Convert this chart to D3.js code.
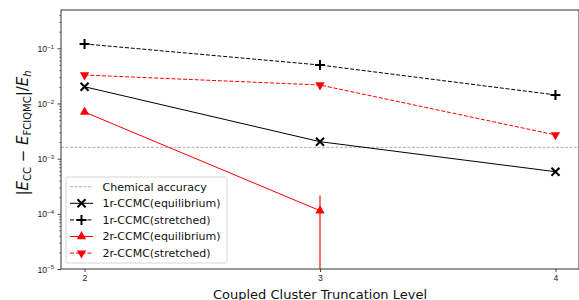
<!DOCTYPE html>
<html>
<head>
<meta charset="utf-8">
<script src="https://cdn.jsdelivr.net/npm/d3@7"></script>
<style>
  body { margin: 0; background: #fff; }
  svg { display: block; font-family: "DejaVu Sans", sans-serif; }
</style>
</head>
<body>
<div id="chart"></div>
<script>
// data
const levels = [2, 3, 4];
const r1Equil = [0.0201, 0.00203, 0.00058];
const r1Stretched = [0.12, 0.0498, 0.0143];
const r2EquilLevels = [2, 3];
const r2Equil = [0.0070, 0.000114];
const r2EquilErr = [0, 0.000104];
const r2Stretched = [0.0328, 0.0216, 0.00269];
const chemicalAccuracy = 0.0016;
const yTicks = [1e-1, 1e-2, 1e-3, 1e-4, 1e-5];
const yTickExp = ["−1", "−2", "−3", "−4", "−5"];
const legendLabels = ["Chemical accuracy", "1r-CCMC(equilibrium)", "1r-CCMC(stretched)",
                      "2r-CCMC(equilibrium)", "2r-CCMC(stretched)"];

const W = 579, H = 300;
const margin = { top: 10, right: 0, bottom: 31, left: 61 };
const width = W - margin.left - margin.right,
      height = H - margin.top - margin.bottom;

const svg = d3.select("#chart").append("svg")
    .attr("width", W).attr("height", H);
const g = svg.append("g").attr("transform", `translate(${margin.left},${margin.top})`);

const x = d3.scaleLinear().domain([1.9, 4.1]).range([0, width]);
const y = d3.scaleLog().domain([1e-5, Math.pow(10, -0.306)]).range([height, 0]);

// chemical accuracy line
g.append("line")
  .attr("x1", 0).attr("x2", width)
  .attr("y1", y(chemicalAccuracy)).attr("y2", y(chemicalAccuracy))
  .attr("stroke", "#999").attr("stroke-width", 0.8).attr("stroke-dasharray", "3,1.5");

const line = d3.line().x(d => x(d[0])).y(d => y(d[1]));

function series(xs, ys, color, dash) {
  const pts = xs.map((v, i) => [v, ys[i]]);
  g.append("path").datum(pts)
    .attr("d", line).attr("fill", "none")
    .attr("stroke", color).attr("stroke-width", 1)
    .attr("stroke-dasharray", dash || null);
  return pts;
}

function markerPath(type, s) {
  if (type === "x") return `M${-s},${-s}L${s},${s}M${-s},${s}L${s},${-s}`;
  if (type === "+") return `M${-s},0L${s},0M0,${-s}L0,${s}`;
  return null;
}

function drawMarker(sel, type, color) {
  if (type === "x" || type === "+") {
    sel.append("path").attr("d", markerPath(type, type === "x" ? 4 : 5))
      .attr("stroke", color).attr("stroke-width", 2).attr("fill", "none");
  } else {
    sel.append("path").attr("d", d3.symbol(d3.symbolTriangle, 38)())
      .attr("transform", type === "v" ? "rotate(180)" : null)
      .attr("fill", color);
  }
}

function markers(pts, type, color) {
  pts.forEach(p => {
    const m = g.append("g").attr("transform", `translate(${x(p[0])},${y(p[1])})`);
    drawMarker(m, type, color);
  });
}

const p1e = series(levels, r1Equil, "#000");
const p1s = series(levels, r1Stretched, "#000", "4,1.8");
const p2e = series(r2EquilLevels, r2Equil, "#f00");
const p2s = series(levels, r2Stretched, "#f00", "4,1.8");

// error bar for 2r equilibrium
r2EquilLevels.forEach((lv, i) => {
  if (!r2EquilErr[i]) return;
  g.append("line")
    .attr("x1", x(lv)).attr("x2", x(lv))
    .attr("y1", y(r2Equil[i] + r2EquilErr[i]))
    .attr("y2", y(r2Equil[i] - r2EquilErr[i]))
    .attr("stroke", "#f33").attr("stroke-width", 1.4);
});

markers(p1e, "x", "#000");
markers(p1s, "+", "#000");
markers(p2e, "^", "#f00");
markers(p2s, "v", "#f00");

// axes
const xAxis = g.append("g").attr("transform", `translate(0,${height})`)
  .call(d3.axisBottom(x).tickValues(levels).tickFormat(d3.format("d")).tickSize(3).tickPadding(3));
xAxis.select(".domain").remove();
xAxis.selectAll("text").attr("font-size", 8.7).attr("fill", "#222");
xAxis.selectAll("line").attr("stroke", "#444");

const minor = [];
for (let e = -5; e < 0; e++) for (let k = 2; k <= 9; k++) {
  const v = k * Math.pow(10, e);
  if (v <= y.domain()[1]) minor.push(v);
}
const yMinor = g.append("g")
  .call(d3.axisLeft(y).tickValues(minor).tickSize(2).tickFormat(""));
yMinor.select(".domain").remove();
yMinor.selectAll("line").attr("stroke", "#444").attr("stroke-width", 0.6);

const yAxis = g.append("g")
  .call(d3.axisLeft(y).tickValues(yTicks).tickSize(3.5).tickPadding(3.5).tickFormat(""));
yAxis.select(".domain").remove();
yAxis.selectAll("line").attr("stroke", "#444");
yAxis.selectAll(".tick text").each(function(d, i) {
  const t = d3.select(this).attr("font-size", 8.7).attr("fill", "#222").attr("dy", "0.35em");
  t.append("tspan").text("10");
  t.append("tspan").text(yTickExp[i]).attr("font-size", 6).attr("dy", "-0.55em");
});

// frame
g.append("rect").attr("width", width).attr("height", height)
  .attr("fill", "none").attr("stroke", "#333").attr("stroke-width", 1);

// axis labels
svg.append("text")
  .attr("x", margin.left + width / 2).attr("y", 298.5)
  .attr("text-anchor", "middle").attr("font-size", 13).attr("fill", "#111")
  .text("Coupled Cluster Truncation Level");

const yl = svg.append("text")
  .attr("transform", `translate(28,133) rotate(-90)`)
  .attr("text-anchor", "middle").attr("font-size", 15).attr("fill", "#111");
yl.append("tspan").text("|");
yl.append("tspan").text("E").attr("font-style", "italic");
yl.append("tspan").text("CC").attr("font-size", 10).attr("dy", 3);
yl.append("tspan").text(" − ").attr("dy", -3);
yl.append("tspan").text("E").attr("font-style", "italic");
yl.append("tspan").text("FCIQMC").attr("font-size", 10).attr("dy", 3);
yl.append("tspan").text("|/").attr("dy", -3);
yl.append("tspan").text("E").attr("font-style", "italic");
yl.append("tspan").text("h").attr("font-style", "italic").attr("font-size", 10).attr("dy", 3);

// legend
const lg = svg.append("g").attr("transform", "translate(66,177)");
lg.append("rect").attr("width", 161).attr("height", 86).attr("rx", 2)
  .attr("fill", "#fff").attr("fill-opacity", 0.85).attr("stroke", "#ccc").attr("stroke-width", 0.8);
const legendStyle = [
  { color: "#999", dash: "3,1.5", marker: null, w: 0.8 },
  { color: "#000", dash: null, marker: "x", w: 1 },
  { color: "#000", dash: "4,1.8", marker: "+", w: 1 },
  { color: "#f00", dash: null, marker: "^", w: 1 },
  { color: "#f00", dash: "4,1.8", marker: "v", w: 1 }
];
legendLabels.forEach((name, i) => {
  const row = lg.append("g").attr("transform", `translate(0,${9.7 + i * 16.6})`);
  row.append("line").attr("x1", 4).attr("x2", 27)
    .attr("stroke", legendStyle[i].color).attr("stroke-width", legendStyle[i].w)
    .attr("stroke-dasharray", legendStyle[i].dash);
  if (legendStyle[i].marker) {
    const m = row.append("g").attr("transform", "translate(15.5,0)");
    drawMarker(m, legendStyle[i].marker, legendStyle[i].color);
  }
  row.append("text").attr("x", 36.5).attr("dy", "0.35em")
    .attr("font-size", 11).attr("fill", "#111").text(name);
});
</script>
</body>
</html>
